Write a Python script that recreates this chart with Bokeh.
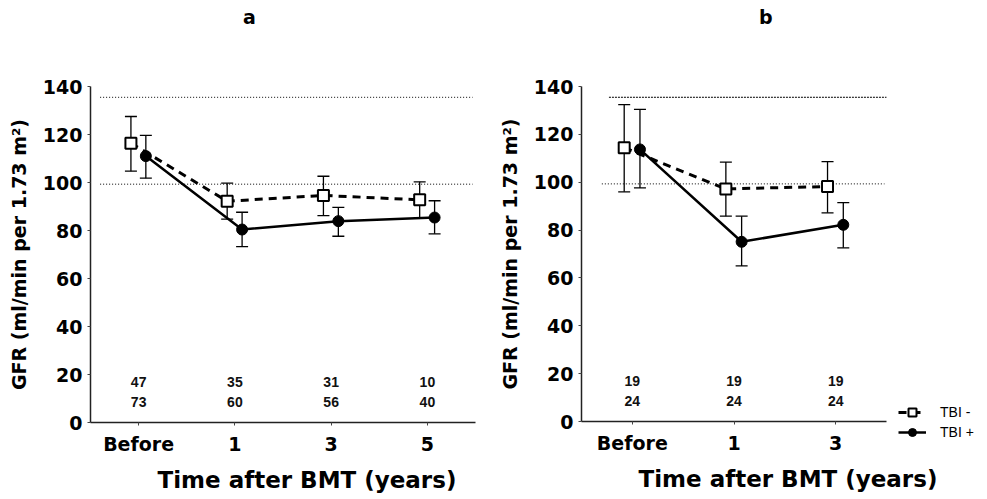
from bokeh.plotting import figure
from bokeh.models import (FactorRange, ColumnDataSource, Whisker, TeeHead, Legend,
                          LegendItem, Title, Div)
from bokeh.transform import dodge
from bokeh.layouts import row, column
from bokeh.core.properties import value
from bokeh.embed import file_html
from bokeh.resources import INLINE

# ---------------- data ----------------
cats_a = ["Before", "1", "3", "5"]
minus_a = [116.4, 92.2, 94.6, 92.8]
minus_a_lo = [104.7, 84.7, 86.2, 85.3]
minus_a_hi = [127.5, 99.7, 102.6, 100.3]
plus_a = [111.0, 80.4, 83.9, 85.4]
plus_a_lo = [101.8, 73.3, 77.6, 78.6]
plus_a_hi = [119.6, 87.6, 89.6, 92.4]
n_minus_a = ["47", "35", "31", "10"]
n_plus_a = ["73", "60", "56", "40"]

cats_b = ["Before", "1", "3"]
minus_b = [114.4, 97.2, 98.2]
minus_b_lo = [96.0, 85.8, 87.2]
minus_b_hi = [132.4, 108.4, 108.6]
plus_b = [113.7, 75.1, 82.2]
plus_b_lo = [97.6, 65.0, 72.6]
plus_b_hi = [130.4, 85.8, 91.5]
n_minus_b = ["19", "19", "19"]
n_plus_b = ["24", "24", "24"]

ref_upper = 135.5
ref_lower = 99.3

y_ticks = [0, 20, 40, 60, 80, 100, 120, 140]
ylabel = "GFR (ml/min per 1.73 m\u00b2)"
xlabel = "Time after BMT (years)"
series_labels = ["TBI -", "TBI +"]
panel_letters = ["a", "b"]

HEAVY = "DejaVu Sans"
FONT = "Liberation Sans"
TOP_DIV = 34


def make_panel(cats, mi, mi_lo, mi_hi, pl, pl_lo, pl_hi, n_mi, n_pl,
               fw, fh, bl, br, bt, bb, xlab_off, ref_spans, legend=False):
    p = figure(x_range=FactorRange(factors=cats), y_range=(0, 140),
               frame_width=fw, frame_height=fh,
               min_border_left=bl, min_border_right=br,
               min_border_top=bt, min_border_bottom=bb,
               output_backend="svg", toolbar_location=None,
               background_fill_color="white", border_fill_color="white")
    p.outline_line_color = None
    p.xgrid.visible = False
    p.ygrid.visible = False

    src = ColumnDataSource(dict(x=cats, mi=mi, mi_lo=mi_lo, mi_hi=mi_hi,
                                pl=pl, pl_lo=pl_lo, pl_hi=pl_hi,
                                n_mi=n_mi, n_pl=n_pl))

    # reference (normal range) lines
    for (yv, x0, x1, dash) in ref_spans:
        p.segment(x0=x0, x1=x1, y0=yv, y1=yv, line_color="black",
                  line_width=1, line_dash=dash)

    xm = dodge("x", -0.08, range=p.x_range)
    xp = dodge("x", 0.075, range=p.x_range)

    for base, lo, hi in [(xm, "mi_lo", "mi_hi"), (xp, "pl_lo", "pl_hi")]:
        w = Whisker(source=src, base=base, lower=lo, upper=hi,
                    line_color="black", line_width=1.3,
                    upper_head=TeeHead(size=12, line_color="black", line_width=1.3),
                    lower_head=TeeHead(size=12, line_color="black", line_width=1.3))
        p.add_layout(w)

    l_mi = p.line(x=xm, y="mi", source=src, line_color="black", line_width=3,
                  line_dash="8 6")
    l_pl = p.line(x=xp, y="pl", source=src, line_color="black", line_width=2.5)
    s_pl = p.scatter(x=xp, y="pl", source=src, marker="circle", size=11,
                     fill_color="black", line_color="black")
    s_mi = p.scatter(x=xm, y="mi", source=src, marker="square", size=11,
                     fill_color="white", line_color="black", line_width=2)

    for col, yy in (("n_mi", 16.8), ("n_pl", 8.5)):
        p.text(x="x", y=yy, text=col, source=src, text_align="center",
               text_baseline="middle", text_font_size="14px", text_font_style="bold",
               text_font=value(FONT), text_color="#111111")

    # axes
    for ax in (p.xaxis, p.yaxis):
        ax.axis_line_color = "#222222"
        ax.axis_line_width = 1.5
        ax.major_tick_in = 0
        ax.major_tick_out = 3
        ax.minor_tick_line_color = None
        ax.major_tick_line_color = "#444444"
        ax.major_label_text_font = HEAVY
        ax.major_label_text_font_style = "bold"
        ax.major_label_text_font_size = "19px"
        ax.major_label_text_color = "black"
    p.yaxis.ticker = y_ticks
    p.yaxis.major_label_standoff = 5
    p.xaxis.major_label_standoff = 7
    p.yaxis.axis_label = ylabel
    p.yaxis.axis_label_text_font = HEAVY
    p.yaxis.axis_label_text_font_style = "bold"
    p.yaxis.axis_label_text_font_size = "19px"
    p.yaxis.axis_label_text_color = "black"
    p.yaxis.axis_label_standoff = 10

    xt = Title(text=xlabel, align="left", offset=xlab_off, standoff=14,
               text_font=HEAVY, text_font_style="bold", text_font_size="23px",
               text_color="black")
    p.add_layout(xt, "below")

    if legend:
        lg = Legend(items=[LegendItem(label=series_labels[0], renderers=[l_mi, s_mi]),
                           LegendItem(label=series_labels[1], renderers=[l_pl, s_pl])],
                    location=(12, -21), orientation="vertical",
                    padding=0, margin=0, spacing=0, glyph_width=28,
                    glyph_height=20, label_standoff=14,
                    label_text_font=FONT, label_text_font_size="14px",
                    label_text_color="black",
                    border_line_color=None, background_fill_alpha=0)
        p.add_layout(lg, "right")
    return p


pa = make_panel(cats_a, minus_a, minus_a_lo, minus_a_hi, plus_a, plus_a_lo, plus_a_hi,
                n_minus_a, n_plus_a,
                fw=385, fh=336, bl=90, br=15, bt=86 - TOP_DIV, bb=77,
                xlab_off=67,
                ref_spans=[(ref_upper, 0.1, 3.97, "1 2"), (ref_lower, 0.1, 3.97, "1 2")])
pb = make_panel(cats_b, minus_b, minus_b_lo, minus_b_hi, plus_b, plus_b_lo, plus_b_hi,
                n_minus_b, n_plus_b,
                fw=305, fh=335, bl=91, br=101, bt=86 - TOP_DIV, bb=78,
                xlab_off=57,
                ref_spans=[(ref_upper, 0.27, 3.06, "2 1"), (ref_lower, 0.2, 2.98, "1 2")],
                legend=True)


def letter_div(txt, w, indent):
    return Div(text=txt, width=w, height=TOP_DIV,
               styles={"font-family": HEAVY, "font-weight": "bold",
                       "font-size": "19px", "line-height": f"{TOP_DIV}px",
                       "text-indent": f"{indent}px", "color": "black",
                       "margin": "0", "padding": "0", "overflow": "hidden"})


da = letter_div(panel_letters[0], 490, 243)
db = letter_div(panel_letters[1], 497, 269)

layout = column(row(da, db, spacing=0), row(pa, pb, spacing=0), spacing=0)
open("out.html", "w").write(file_html(layout, INLINE))
